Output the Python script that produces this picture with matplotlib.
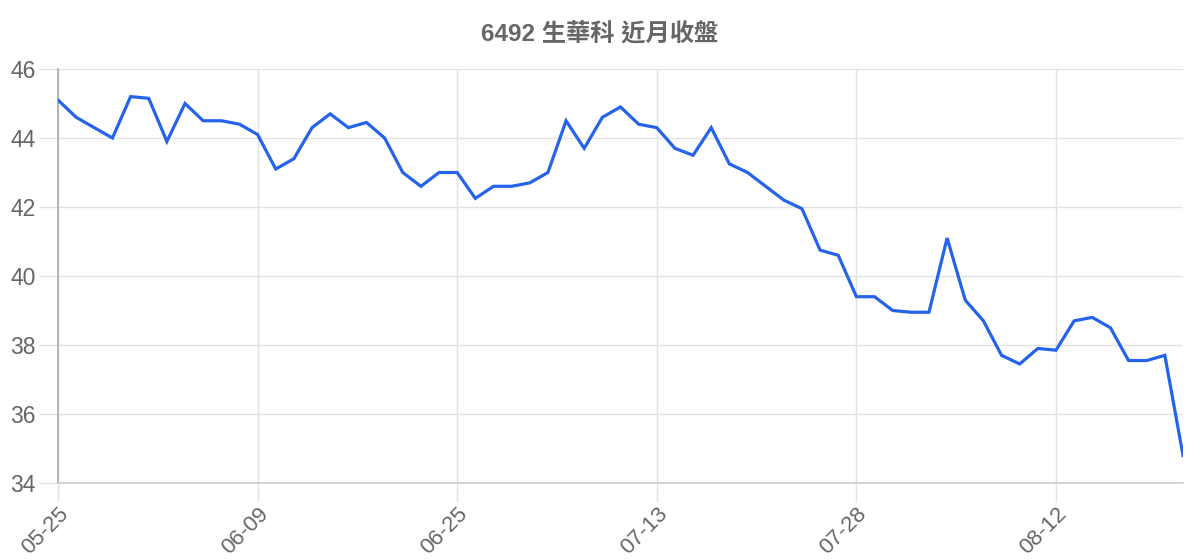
import matplotlib
matplotlib.use("Agg")
import matplotlib.pyplot as plt

plt.rcParams['font.family'] = ['Liberation Sans', 'Noto Sans CJK TC', 'DejaVu Sans']

title = "6492 生華科 近月收盤"

dates = ["05-25", "05-26", "05-29", "05-30", "05-31", "06-01", "06-02", "06-05", "06-06", "06-07",
         "06-08", "06-09", "06-12", "06-13", "06-14", "06-15", "06-16", "06-19", "06-20", "06-21",
         "06-22", "06-24", "06-25", "06-26", "06-27", "06-28", "06-29", "06-30", "07-04", "07-05",
         "07-06", "07-10", "07-11", "07-13", "07-14", "07-17", "07-18", "07-19", "07-20", "07-21",
         "07-24", "07-25", "07-26", "07-27", "07-28", "07-31", "08-01", "08-02", "08-03", "08-04",
         "08-07", "08-08", "08-09", "08-10", "08-11", "08-12", "08-14", "08-15", "08-16", "08-17",
         "08-18", "08-21", "08-22"]

close = [45.1, 44.6, 44.3, 44.0, 45.2, 45.15, 43.9, 45.0, 44.5, 44.5,
         44.4, 44.1, 43.1, 43.4, 44.3, 44.7, 44.3, 44.45, 44.0, 43.0,
         42.6, 43.0, 43.0, 42.25, 42.6, 42.6, 42.7, 43.0, 44.5, 43.7,
         44.6, 44.9, 44.4, 44.3, 43.7, 43.5, 44.3, 43.25, 43.0, 42.6,
         42.2, 41.95, 40.75, 40.6, 39.4, 39.4, 39.0, 38.95, 38.95, 41.1,
         39.3, 38.7, 37.7, 37.45, 37.9, 37.85, 38.7, 38.8, 38.5, 37.55,
         37.55, 37.7, 34.8]

y_ticks = [34, 36, 38, 40, 42, 44, 46]
label_every = 11

fig = plt.figure(figsize=(12, 5.6), dpi=100)
ax = fig.add_axes([58 / 1200, 1 - 483 / 560, 1125 / 1200, 414 / 560])

x = list(range(len(close)))
ax.plot(x, close, color="#2563eb", linewidth=2.3, solid_joinstyle="miter", zorder=3)

ax.set_xlim(0, len(close) - 1)
ax.set_ylim(min(y_ticks), max(y_ticks))

xt = x[::label_every]
ax.set_xticks(xt)
ax.set_xticklabels([dates[i] for i in xt], rotation=45, ha="right", va="top",
                   rotation_mode="anchor", fontsize=16, color="#666666")
ax.set_yticks(y_ticks)
ax.set_yticklabels([str(v) for v in y_ticks], fontsize=16.5, color="#666666")

ax.grid(True, color="#e2e2e2", linewidth=1.0, zorder=0)
ax.tick_params(axis="both", length=14, width=1.0, color="#e2e2e2", pad=2)
ax.tick_params(axis="x", pad=1)

for s in ["top", "right"]:
    ax.spines[s].set_visible(False)
ax.spines["left"].set_color("#aaaaaa")
ax.spines["bottom"].set_color("#cccccc")
ax.spines["left"].set_linewidth(1.2)
ax.spines["bottom"].set_linewidth(1.2)

fig.text(0.5, 1 - 35 / 560, title, ha="center", va="center",
         fontsize=17.5, fontweight="bold", color="#666666")

fig.savefig("out.png", dpi=100)
